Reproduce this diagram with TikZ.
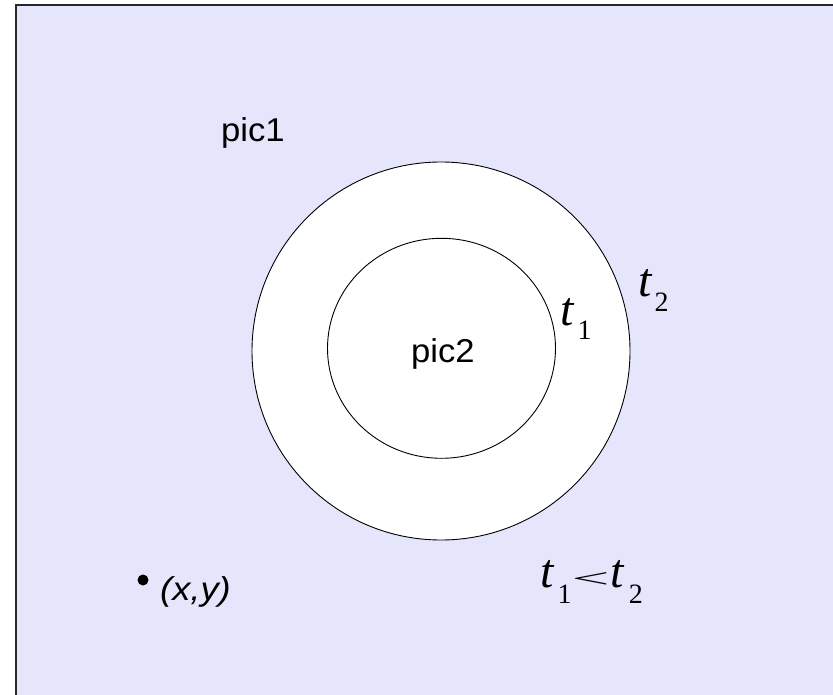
\documentclass[tikz,border=0pt]{standalone}
\usepackage{fontspec}
\setmainfont{Liberation Serif}
\newfontfamily\sansfnt{Liberation Sans}
\definecolor{bgcol}{RGB}{229,229,251}
\definecolor{framecol}{RGB}{40,40,40}
\newcommand{\tvar}{{\fontsize{48}{48}\selectfont\itshape t}}
\newcommand{\subnum}[2]{\raisebox{-#1pt}{\fontsize{28}{28}\selectfont #2}}
\tikzset{
  ring/.style={draw=black, line width=0.9pt},
  sanslabel/.style={anchor=base west, inner sep=0pt, font=\sansfnt\fontsize{33}{33}\selectfont},
  mathlabel/.style={anchor=base west, inner sep=0pt},
  dotnode/.style={circle, fill=black, inner sep=0pt, minimum size=11pt}
}
\begin{document}
\begin{tikzpicture}[x=1pt,y=-1pt]
\useasboundingbox (0,0) rectangle (833,695);
\clip (0,0) rectangle (833,695);
\fill[bgcol] (16,5) rectangle (850,710);
\draw[framecol, line width=2pt] (16,720) -- (16,5) -- (860,5);
\node[ring, circle, fill=white, minimum size=378pt, inner sep=0pt] (outer) at (441,351) {};
\draw[ring] (441.5,348.3) ellipse[x radius=114, y radius=110];
\coordinate (innerc) at (441.5,348.3);
\node[sanslabel] (pic1) at (221,142) {\scalebox{1.05}[1]{pic1}};
\node[sanslabel] (pic2) at (411,362) {\scalebox{1.05}[1]{pic2}};
\node[dotnode] (pt) at (143,580) {};
\node[sanslabel, font=\sansfnt\itshape\fontsize{33}{33}\selectfont] (xy) at (160,600) {\scalebox{1.1}[1]{(x,y)}};
\node[mathlabel] (t1) at (560,325) {\tvar\hspace{4pt}\subnum{14}{1}};
\node[mathlabel] (t2) at (638,297) {\tvar\hspace{3pt}\subnum{15}{2}};
\node[mathlabel] (ineq) at (540,587) {\tvar\hspace{4pt}\subnum{16}{1}\hspace{0pt}\resizebox{38pt}{15pt}{<}\hspace{1pt}\tvar\hspace{5pt}\subnum{16}{2}};
\end{tikzpicture}
\end{document}
